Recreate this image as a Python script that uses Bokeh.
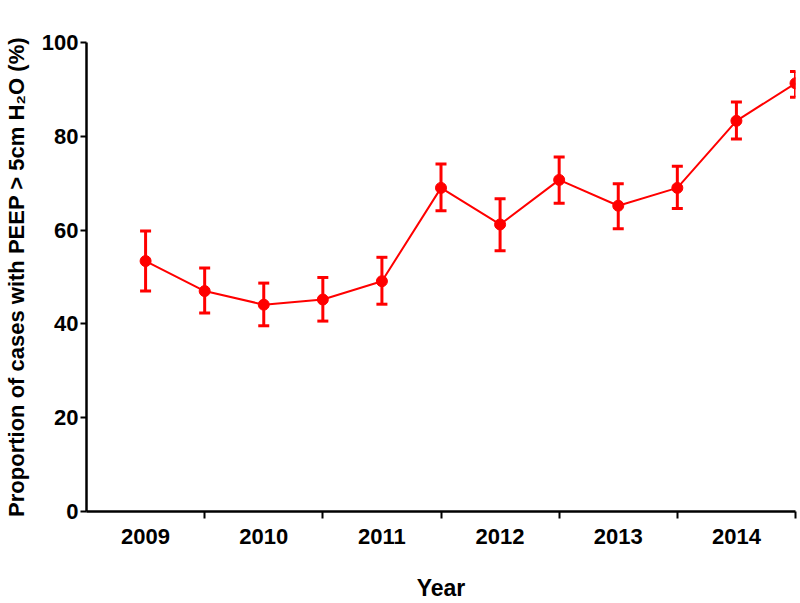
from bokeh.plotting import figure
from bokeh.models import ColumnDataSource, Whisker, TeeHead, FixedTicker, Range1d
from bokeh.embed import file_html
from bokeh.resources import INLINE

# Data (half-year periods)
period = [2009.0, 2009.5, 2010.0, 2010.5, 2011.0, 2011.5, 2012.0, 2012.5, 2013.0, 2013.5, 2014.0, 2014.5]
proportion = [53.4, 47.0, 44.1, 45.2, 49.1, 69.0, 61.2, 70.7, 65.2, 69.0, 83.3, 91.3]
ci_upper = [59.8, 51.9, 48.7, 49.9, 54.2, 74.1, 66.7, 75.6, 69.9, 73.6, 87.3, 93.8]
ci_lower = [47.0, 42.3, 39.6, 40.6, 44.2, 64.1, 55.6, 65.7, 60.3, 64.6, 79.4, 88.3]
year_labels = ["2009", "2010", "2011", "2012", "2013", "2014"]
year_ticks = [2009, 2010, 2011, 2012, 2013, 2014]
boundary_ticks = [2009.5, 2010.5, 2011.5, 2012.5, 2013.5, 2014.5]
y_ticks = [0, 20, 40, 60, 80, 100]

RED = "#ff0000"
FONT = "Liberation Sans"

src = ColumnDataSource(dict(x=period, y=proportion, upper=ci_upper, lower=ci_lower))

p = figure(width=800, height=603, output_backend="svg", toolbar_location=None,
           x_range=Range1d(2008.5, 2014.5), y_range=Range1d(0, 100),
           min_border_left=79, min_border_right=5, min_border_top=42, min_border_bottom=90)
p.outline_line_color = None
p.xgrid.grid_line_color = None
p.ygrid.grid_line_color = None
p.background_fill_color = "white"

# Error bars
w = Whisker(source=src, base="x", upper="upper", lower="lower", dimension="height",
            line_color=RED, line_width=3,
            upper_head=TeeHead(size=11, line_color=RED, line_width=3),
            lower_head=TeeHead(size=11, line_color=RED, line_width=3))
p.add_layout(w)

p.line("x", "y", source=src, line_color=RED, line_width=2)
p.scatter("x", "y", source=src, size=11, fill_color=RED, line_color=RED)

# X axis
xa = p.xaxis[0]
xa.ticker = FixedTicker(ticks=year_ticks, minor_ticks=boundary_ticks)
xa.major_label_overrides = {t: l for t, l in zip(year_ticks, year_labels)}
xa.major_tick_out = 0
xa.major_tick_in = 0
xa.minor_tick_out = 7
xa.minor_tick_in = 0
xa.minor_tick_line_width = 2
xa.minor_tick_line_color = "black"
xa.axis_line_width = 2.5
xa.axis_line_color = "black"
xa.major_label_text_font = FONT
xa.major_label_text_font_style = "bold"
xa.major_label_text_font_size = "22px"
xa.major_label_text_color = "black"
xa.major_label_standoff = 10
xa.axis_label = "Year"
xa.axis_label_text_font = FONT
xa.axis_label_text_font_style = "bold"
xa.axis_label_text_font_size = "23px"
xa.axis_label_text_color = "black"
xa.axis_label_standoff = 28

# Y axis
ya = p.yaxis[0]
ya.ticker = FixedTicker(ticks=y_ticks, minor_ticks=[])
ya.major_tick_out = 6
ya.major_tick_in = 0
ya.major_tick_line_width = 2
ya.axis_line_width = 2.5
ya.axis_line_color = "black"
ya.major_label_text_font = FONT
ya.major_label_text_font_style = "bold"
ya.major_label_text_font_size = "22px"
ya.major_label_text_color = "black"
ya.major_label_standoff = 2
ya.axis_label = "Proportion of cases with PEEP > 5cm H\u2082O (%)"
ya.axis_label_text_font = FONT
ya.axis_label_text_font_style = "bold"
ya.axis_label_text_font_size = "22px"
ya.axis_label_text_color = "black"
ya.axis_label_standoff = 10

open("out.html", "w").write(file_html(p, INLINE))
